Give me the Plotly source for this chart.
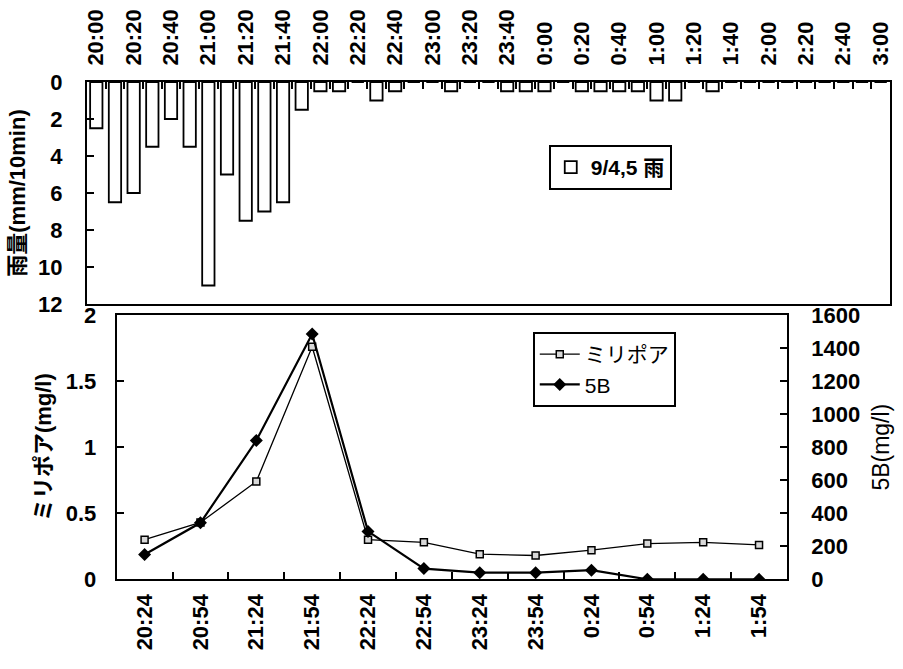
import plotly.graph_objects as go

# ---- rainfall, 10-minute totals (mm/10min), 9/4 20:00 -> 9/5 3:00 ----
rain_times = [
    "20:00", "20:10", "20:20", "20:30", "20:40", "20:50",
    "21:00", "21:10", "21:20", "21:30", "21:40", "21:50",
    "22:00", "22:10", "22:20", "22:30", "22:40", "22:50",
    "23:00", "23:10", "23:20", "23:30", "23:40", "23:50",
    "0:00", "0:10", "0:20", "0:30", "0:40", "0:50",
    "1:00", "1:10", "1:20", "1:30", "1:40", "1:50",
    "2:00", "2:10", "2:20", "2:30", "2:40", "2:50",
    "3:00",
]
rain_mm = [
    2.5, 6.5, 6.0, 3.5, 2.0, 3.5,
    11.0, 5.0, 7.5, 7.0, 6.5, 1.5,
    0.5, 0.5, 0.0, 1.0, 0.5, 0.0,
    0.0, 0.5, 0.0, 0.0, 0.5, 0.5,
    0.5, 0.0, 0.5, 0.5, 0.5, 0.5,
    1.0, 1.0, 0.0, 0.5, 0.0, 0.0,
    0.0, 0.0, 0.0, 0.0, 0.0, 0.0,
    0.0,
]
# label every 20 minutes, tick at every 10-minute boundary
rain_ticktext = [t if i % 2 == 0 else "" for i, t in enumerate(rain_times)]

# ---- suspended solids sampled every 30 minutes ----
sample_times = ["20:24", "20:54", "21:24", "21:54", "22:24", "22:54",
                "23:24", "23:54", "0:24", "0:54", "1:24", "1:54"]
millipore_mg_l = [0.30, 0.43, 0.74, 1.76, 0.30, 0.28,
                  0.19, 0.18, 0.22, 0.27, 0.28, 0.26]
b5_mg_l = [150, 342, 840, 1485, 290, 65,
           40, 40, 55, 0, 0, 0]

LAT = "Liberation Sans, Noto Sans CJK JP, sans-serif"
BOLD = dict(family=LAT, size=22, color="black", weight="bold")
TITLE_BOLD = dict(family=LAT, size=22, color="black", weight="bold")

fig = go.Figure()

fig.add_trace(go.Bar(
    x=rain_times, y=rain_mm, name="9/4,5 雨",
    marker=dict(color="white", line=dict(color="black", width=1.8)),
    width=0.66, xaxis="x", yaxis="y", legend="legend",
))

fig.add_trace(go.Scatter(
    x=sample_times, y=millipore_mg_l, name="ミリポア", mode="lines+markers",
    line=dict(color="black", width=1.3),
    marker=dict(symbol="square", size=7, color="#d8d8d8",
                line=dict(color="black", width=1.5)),
    xaxis="x2", yaxis="y2", legend="legend2",
))
fig.add_trace(go.Scatter(
    x=sample_times, y=b5_mg_l, name="5B", mode="lines+markers",
    line=dict(color="black", width=2.2),
    marker=dict(symbol="diamond", size=10, color="black"),
    xaxis="x2", yaxis="y3", legend="legend2",
))

axis_common = dict(showline=True, linecolor="black", linewidth=2, mirror=True,
                   ticks="inside", tickcolor="black", tickwidth=1.5,
                   showgrid=False, zeroline=False, automargin=False,
                   tickfont=BOLD)

fig.update_layout(
    width=903, height=669,
    margin=dict(l=0, r=0, t=0, b=0),
    paper_bgcolor="white", plot_bgcolor="white",
    xaxis=dict(axis_common, domain=[0.0963, 0.9856], anchor="y", side="top",
               type="category", range=[-0.5, 42.5],
               tickmode="array", tickvals=rain_times, ticktext=rain_ticktext,
               tickangle=-90, tickson="boundaries", ticklen=7,
               ticklabelstandoff=10),
    yaxis=dict(axis_common, domain=[0.5456, 0.8774], anchor="x",
               range=[12, 0], dtick=2, ticklen=7, ticklabelstandoff=18,
               title=dict(text="雨量(mm/10min)", font=TITLE_BOLD, standoff=6)),
    xaxis2=dict(axis_common, domain=[0.1292, 0.8715], anchor="y2",
                type="category", range=[-0.5, 11.5],
                tickangle=-90, tickson="boundaries", ticklen=7,
                ticklabelstandoff=4),
    yaxis2=dict(axis_common, domain=[0.1341, 0.5291], anchor="x2",
                range=[0, 2], dtick=0.5, ticklen=7, ticklabelstandoff=14,
                title=dict(text="ミリポア(mg/l)", font=TITLE_BOLD, standoff=8)),
    yaxis3=dict(axis_common, overlaying="y2", anchor="x2", side="right",
                range=[0, 1600], dtick=200, ticklen=7, mirror=False,
                ticklabelstandoff=18,
                title=dict(text="5B(mg/l)",
                           font=dict(family=LAT, size=23, color="black"),
                           standoff=14)),
    legend=dict(x=0.6077, y=0.7833, xanchor="left", yanchor="top",
                bgcolor="white", bordercolor="black", borderwidth=2,
                font=dict(family=LAT, size=21, color="black", weight="bold"),
                itemwidth=30),
    legend2=dict(x=0.59, y=0.5037, xanchor="left", yanchor="top",
                 bgcolor="white", bordercolor="black", borderwidth=2,
                 font=dict(family=LAT, size=21, color="black"),
                 itemwidth=40),
    showlegend=True,
)

fig.write_html("out.html")
